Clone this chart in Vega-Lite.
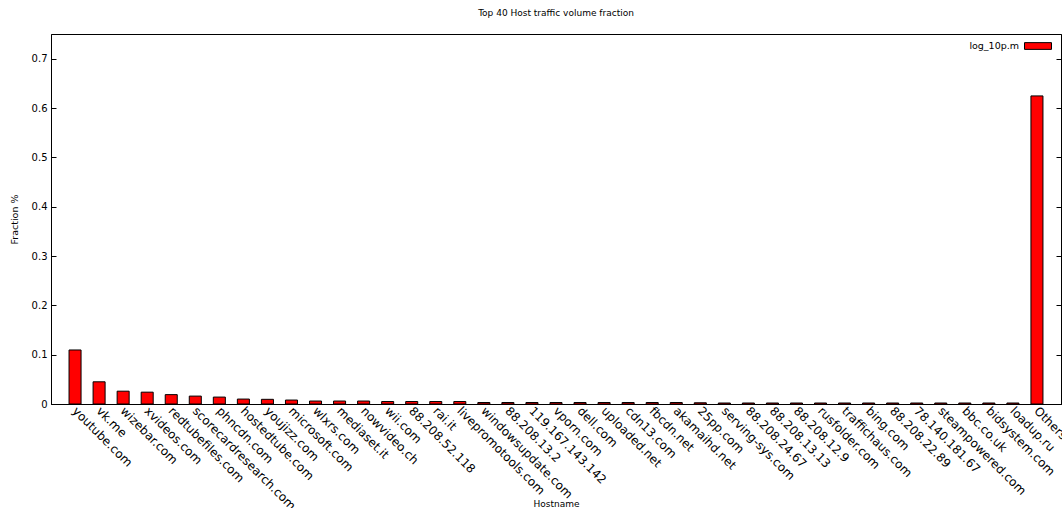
{
  "$schema": "https://vega.github.io/schema/vega-lite/v6.json",
  "width": 1010,
  "height": 370,
  "autosize": {"type": "none"},
  "padding": {"left": 51, "top": 34, "right": 1, "bottom": 104},
  "background": "white",
  "title": {"text": "Top 40 Host traffic volume fraction", "font": "DejaVu Sans", "fontSize": 9, "fontWeight": "normal", "color": "#000", "offset": 14},
  "config": {
    "view": {"stroke": "#000", "strokeWidth": 1},
    "font": "DejaVu Sans"
  },
  "data": {"values": [
    {"host": "youtube.com", "fraction": 0.1095},
    {"host": "vk.me", "fraction": 0.045},
    {"host": "wizebar.com", "fraction": 0.026},
    {"host": "xvideos.com", "fraction": 0.024},
    {"host": "redtubefiles.com", "fraction": 0.019},
    {"host": "scorecardresearch.com", "fraction": 0.016},
    {"host": "phncdn.com", "fraction": 0.014},
    {"host": "hostedtube.com", "fraction": 0.010},
    {"host": "youjizz.com", "fraction": 0.0095},
    {"host": "microsoft.com", "fraction": 0.008},
    {"host": "wlxrs.com", "fraction": 0.006},
    {"host": "mediaset.it", "fraction": 0.006},
    {"host": "nowvideo.ch", "fraction": 0.006},
    {"host": "wii.com", "fraction": 0.005},
    {"host": "88.208.52.118", "fraction": 0.005},
    {"host": "rai.it", "fraction": 0.005},
    {"host": "livepromotools.com", "fraction": 0.005},
    {"host": "windowsupdate.com", "fraction": 0.003},
    {"host": "88.208.13.2", "fraction": 0.003},
    {"host": "119.167.143.142", "fraction": 0.003},
    {"host": "vporn.com", "fraction": 0.003},
    {"host": "dell.com", "fraction": 0.003},
    {"host": "uploaded.net", "fraction": 0.003},
    {"host": "cdn13.com", "fraction": 0.003},
    {"host": "fbcdn.net", "fraction": 0.003},
    {"host": "akamaihd.net", "fraction": 0.003},
    {"host": "25pp.com", "fraction": 0.0025},
    {"host": "serving-sys.com", "fraction": 0.002},
    {"host": "88.208.24.67", "fraction": 0.002},
    {"host": "88.208.13.13", "fraction": 0.002},
    {"host": "88.208.12.9", "fraction": 0.002},
    {"host": "rusfolder.com", "fraction": 0.002},
    {"host": "traffichaus.com", "fraction": 0.002},
    {"host": "bing.com", "fraction": 0.002},
    {"host": "88.208.22.89", "fraction": 0.002},
    {"host": "78.140.181.67", "fraction": 0.002},
    {"host": "steampowered.com", "fraction": 0.002},
    {"host": "bbc.co.uk", "fraction": 0.002},
    {"host": "bidsystem.com", "fraction": 0.002},
    {"host": "loadup.ru", "fraction": 0.002},
    {"host": "Others", "fraction": 0.6245}
  ]},
  "layer": [
    {
      "mark": {"type": "bar", "stroke": "#000", "strokeWidth": 1},
      "encoding": {
        "x": {
          "field": "host", "type": "nominal", "sort": null,
          "scale": {"paddingInner": 0.5, "paddingOuter": 0.75},
          "axis": {
            "title": "Hostname", "titleFont": "DejaVu Sans", "titleFontSize": 9, "titleFontWeight": "normal", "titleColor": "#000", "titleY": 95, "titleBaseline": "top",
            "labelAngle": 45, "labelAlign": "left", "labelBaseline": "top", "labelFontSize": 12, "labelColor": "#000", "labelPadding": 1, "labelOffset": 3,
            "domainColor": "#000", "ticks": false, "labelOverlap": false, "labelLimit": 300
          }
        },
        "y": {
          "field": "fraction", "type": "quantitative",
          "scale": {"domain": [0, 0.75], "nice": false},
          "axis": {
            "title": "Fraction %", "titleFont": "DejaVu Sans", "titleFontSize": 9.5, "titleFontWeight": "normal", "titleColor": "#000", "titlePadding": 12,
            "values": [0, 0.1, 0.2, 0.3, 0.4, 0.5, 0.6, 0.7], "format": ".1~f",
            "labelFontSize": 10, "labelColor": "#000", "labelPadding": 9,
            "tickSize": -5, "tickColor": "#000", "domainColor": "#000", "grid": false
          }
        },
        "color": {
          "datum": "log_10p.m", "type": "nominal",
          "scale": {"range": ["#ff0000"]},
          "legend": {
            "title": null, "orient": "none", "legendX": 973, "legendY": -2, "padding": 0,
            "symbolType": "M-1,-0.25H1V0.25H-1Z", "symbolSize": 729, "symbolStrokeColor": "#000", "symbolStrokeWidth": 1, "symbolFillColor": "#ff0000",
            "labelAlign": "right", "labelOffset": -33, "labelFontSize": 9.5, "labelColor": "#000"
          }
        }
      }
    },
    {
      "mark": {"type": "bar", "opacity": 0},
      "encoding": {
        "x": {"field": "host", "type": "nominal", "sort": null, "scale": {"paddingInner": 0.5, "paddingOuter": 0.75}},
        "y": {
          "field": "fraction", "type": "quantitative",
          "scale": {"domain": [0, 0.75], "nice": false},
          "axis": {"orient": "right", "title": null, "labels": false, "values": [0, 0.1, 0.2, 0.3, 0.4, 0.5, 0.6, 0.7], "tickSize": -5, "tickColor": "#000", "domainColor": "#000", "grid": false}
        }
      }
    }
  ],
  "resolve": {"scale": {"y": "independent"}, "axis": {"y": "independent"}}
}
